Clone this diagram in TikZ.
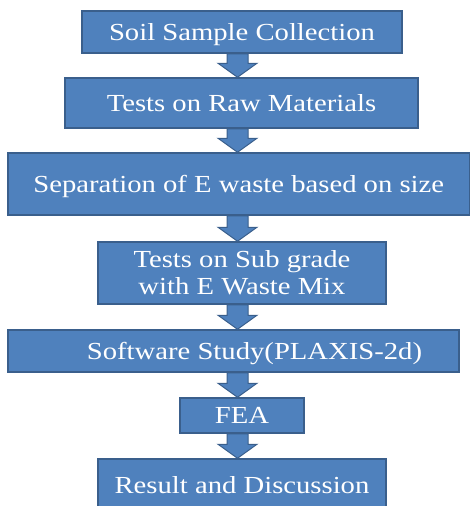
\documentclass[tikz,border=0pt]{standalone}
\usepackage{fontspec}
\setmainfont{Liberation Serif}[FakeStretch=1.17]
\usetikzlibrary{calc,backgrounds}
\definecolor{boxfill}{HTML}{4F81BD}
\definecolor{boxline}{HTML}{3A5F8C}
\tikzset{
  stage/.style={draw=boxline, fill=boxfill, line width=1.5pt, text=white,
    inner sep=0pt, align=center, font=\fontsize{24.5}{27}\selectfont},
  oneline/.style={text height=16.5pt, text depth=0pt},
  flowarrow/.style={draw=boxline, fill=boxfill, line width=1pt, line join=miter}
}
% block arrow pointing down from the bottom of #1 to the top of #2
\newcommand\stagearrow[2]{%
  \path[flowarrow] let \p1=(#1.south), \p2=(#2.north) in
    (227pt,\y1) -- (248pt,\y1) -- (248pt,\y2+14pt) -- (257pt,\y2+14pt)
    -- (237.5pt,\y2) -- (218pt,\y2+14pt) -- (227pt,\y2+14pt) -- cycle;}
\begin{document}
\begin{tikzpicture}[x=1pt,y=-1pt]
\useasboundingbox (0,0) rectangle (471,506);
\clip (0,0) rectangle (471,506);

\node[stage, oneline, minimum width=320pt, minimum height=42pt] (s1) at (242,32)
  {Soil Sample Collection};
\node[stage, oneline, minimum width=353pt, minimum height=50pt] (s2) at (241.5,103)
  {Tests on Raw Materials};
\node[stage, oneline, minimum width=461.5pt, minimum height=62pt] (s3) at (238.75,184)
  {Separation of E waste based on size};
\node[stage, minimum width=288pt, minimum height=62pt] (s4) at (242,273)
  {Tests on Sub grade\\with E Waste Mix};
\node[stage, oneline, minimum width=451pt, minimum height=42pt] (s5) at (233.5,351)
  {\hspace*{42pt}Software Study(PLAXIS-2d)};
\node[stage, oneline, minimum width=124pt, minimum height=35pt] (s6) at (242,415.5)
  {FEA};
\node[stage, oneline, minimum width=288pt, minimum height=52pt] (s7) at (242,485)
  {Result and Discussion};

\begin{scope}[on background layer]
  \stagearrow{s1}{s2}
  \stagearrow{s2}{s3}
  \stagearrow{s3}{s4}
  \stagearrow{s4}{s5}
  \stagearrow{s5}{s6}
  \stagearrow{s6}{s7}
\end{scope}
\end{tikzpicture}
\end{document}
